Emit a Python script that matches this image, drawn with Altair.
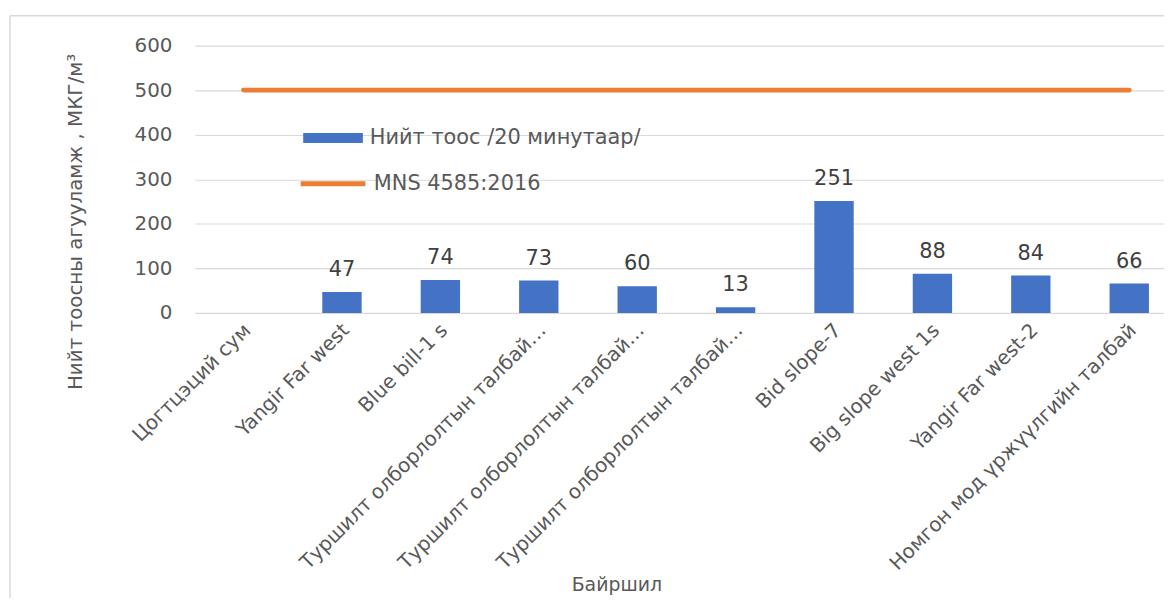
import json
import altair as alt
import pandas as pd

categories = [
    "Цогтцэций сум",
    "Yangir Far west",
    "Blue bill-1 s",
    "Туршилт олборлолтын талбай…",
    "Туршилт олборлолтын талбай…",
    "Туршилт олборлолтын талбай…",
    "Bid slope-7",
    "Big slope west 1s",
    "Yangir Far west-2",
    "Номгон мод үржүүлгийн талбай",
]
dust_values = [None, 47, 74, 73, 60, 13, 251, 88, 84, 66]
standard_values = [500, 500, 500, 500, 500, 500, 500, 500, 500, 500]
series_names = ["Нийт тоос /20 минутаар/", "MNS 4585:2016"]
y_ticks = [0, 100, 200, 300, 400, 500, 600]

df = pd.DataFrame({
    "idx": list(range(len(categories))),
    "dust": dust_values,
    "std": standard_values,
    "s1": series_names[0],
    "s2": series_names[1],
})

FONT = "DejaVu Sans"
GREY = "#595959"
FRAME = "#D9D9D9"
label_expr = json.dumps(categories, ensure_ascii=False) + "[datum.value]"

x_enc = alt.X(
    "idx:O",
    scale=alt.Scale(paddingInner=0.6, paddingOuter=0.224, align=0.658),
    axis=alt.Axis(
        labelExpr=label_expr,
        labelAngle=-45,
        labelAlign="right",
        labelBaseline="middle",
        labelPadding=14,
        labelOffset=4,
        labelLimit=500,
        labelFontSize=20,
        labelColor=GREY,
        labelFont=FONT,
        ticks=False,
        domain=False,
        grid=False,
        title="Байршил",
        titleFontSize=19,
        titleFontWeight="normal",
        titleColor=GREY,
        titleFont=FONT,
        titleX=424,
        titleY=273,
        titleBaseline="middle",
        titleAlign="center",
    ),
)

y_enc_kwargs = dict(
    scale=alt.Scale(domain=[0, 600]),
    axis=alt.Axis(
        values=y_ticks,
        labelFontSize=20,
        labelColor=GREY,
        labelFont=FONT,
        labelPadding=23,
        ticks=False,
        domain=False,
        grid=True,
        gridColor="#D9D9D9",
        gridWidth=1.2,
        title="Нийт тоосны агууламж , МКГ/м³",
        titleFontSize=20,
        titleFontWeight="normal",
        titleColor=GREY,
        titleFont=FONT,
        titleAngle=270,
        titleX=-120,
        titleY=177,
        titleBaseline="middle",
        titleAlign="center",
    ),
)

base = alt.Chart(df)

bars = base.mark_bar(color="#4472C4").encode(
    x=x_enc,
    y=alt.Y("dust:Q", **y_enc_kwargs),
    fill=alt.Fill(
        "s1:N",
        scale=alt.Scale(range=["#4472C4"]),
        legend=alt.Legend(
            orient="none",
            legendX=109,
            legendY=63,
            title=None,
            symbolType="M-1,-0.17H1V0.17H-1Z",
            symbolSize=3600,
            symbolStrokeWidth=0,
            labelFontSize=21,
            labelColor=GREY,
            labelFont=FONT,
            labelOffset=7,
            labelLimit=400,
        ),
    ),
)

labels = base.mark_text(dy=-22, fontSize=21, color="#404040", font=FONT).encode(
    x=alt.X("idx:O"),
    y=alt.Y("dust:Q"),
    text=alt.Text("dust:Q"),
)

line = base.mark_line(strokeWidth=5, strokeCap="round").encode(
    x=alt.X("idx:O"),
    y=alt.Y("std:Q"),
    stroke=alt.Stroke(
        "s2:N",
        scale=alt.Scale(range=["#ED7D31"]),
        legend=alt.Legend(
            orient="none",
            legendX=104,
            legendY=104,
            title=None,
            symbolType="stroke",
            symbolSize=4225,
            symbolStrokeWidth=5,
            labelFontSize=21,
            labelColor=GREY,
            labelFont=FONT,
            labelOffset=6,
            labelLimit=400,
        ),
    ),
)

# light frame of the surrounding chart area (decoration)
frame_top = alt.Chart(df.head(1)).mark_rule(color=FRAME, strokeWidth=1.5).encode(
    x=alt.value(-186), x2=alt.value(990), y=alt.value(-30)
)
frame_left = alt.Chart(df.head(1)).mark_rule(color=FRAME, strokeWidth=1.5).encode(
    x=alt.value(-186), y=alt.value(-30), y2=alt.value(560)
)

chart = (
    alt.layer(frame_top, frame_left, bars, labels, line)
    .properties(
        width=975,
        height=269,
        autosize=alt.AutoSizeParams(type="none"),
        padding={"left": 188, "top": 36, "right": 0, "bottom": 285},
    )
    .configure_view(stroke=None)
)

chart.save("out.html", embed_options={"renderer": "svg", "actions": False})
